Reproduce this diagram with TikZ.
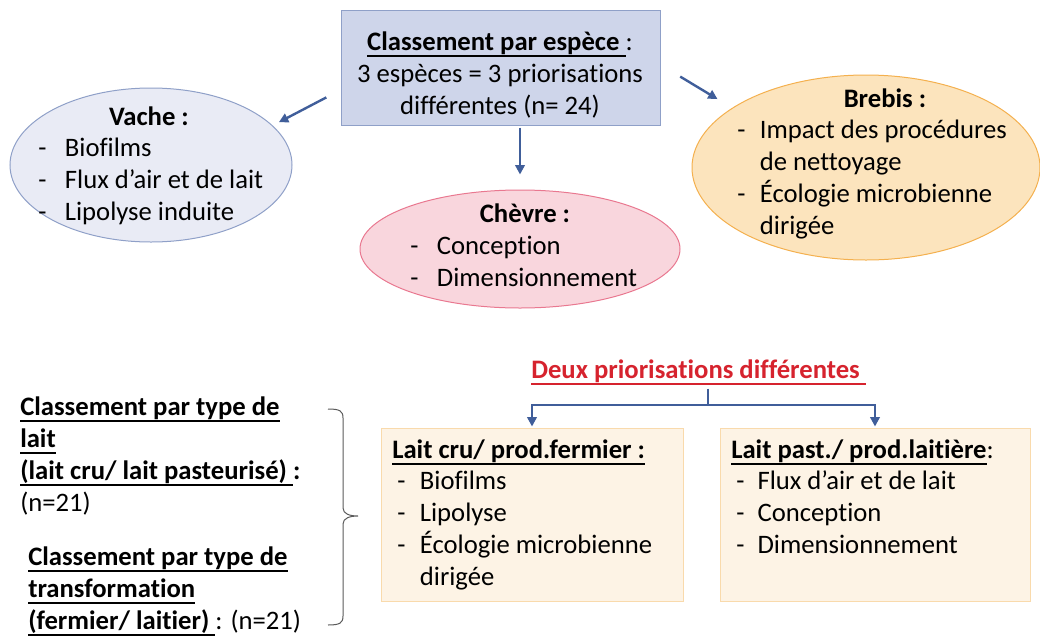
\documentclass[tikz,border=0pt]{standalone}
\usepackage{fontspec}
\setmainfont{Carlito}[Ligatures=NoCommon]
\usetikzlibrary{arrows.meta,shapes.geometric}
\newcommand{\itm}[2][20pt]{\makebox[#1][l]{-}#2}
\newcommand{\uln}[1]{\leavevmode\setbox0\hbox{#1}\rlap{\rule[-4.7pt]{\wd0}{1.3pt}}\box0}
\definecolor{topfill}{RGB}{206,213,234}
\definecolor{blueline}{RGB}{143,160,200}
\definecolor{vachefill}{RGB}{233,235,245}
\definecolor{chevrefill}{RGB}{249,214,221}
\definecolor{chevreline}{RGB}{233,120,144}
\definecolor{brebisfill}{RGB}{252,228,189}
\definecolor{brebisline}{RGB}{244,176,78}
\definecolor{laitfill}{RGB}{253,243,229}
\definecolor{laitline}{RGB}{249,218,172}
\definecolor{arrowblue}{RGB}{64,94,154}
\definecolor{titlered}{RGB}{214,35,46}
\definecolor{bracecol}{RGB}{90,90,90}
\tikzset{
  txt/.style={inner sep=0pt, font=\fontsize{20}{24}\selectfont, align=left, anchor=north west},
  ttl/.style={txt, anchor=north, align=center},
  blob/.style={ellipse, draw, line width=0.75pt, inner sep=0pt},
  pane/.style={rectangle, draw, line width=0.75pt, inner sep=0pt},
  link/.style={draw=arrowblue, line width=1.8pt},
  arr/.style={link, -{Triangle[length=7pt,width=7pt]}}
}
\begin{document}
\begin{tikzpicture}[x=0.75pt,y=-0.75pt]
	\useasboundingbox (0,0) rectangle (1040,640);

	\node[pane, fill=topfill, draw=blueline, minimum width=239.25pt, minimum height=86.25pt] (top) at (500.5,67.5) {};
	\node[ttl] (toptxt) at (500,28) {\strut\textbf{\uln{Classement par espèce\ }}:\\3 espèces = 3 priorisations\\différentes (n= 24)};

	\node[blob, fill=vachefill, draw=blueline, minimum width=211.5pt, minimum height=115.5pt] (vache) at (151,165) {};
	\node[ttl] (vachettl) at (149,103) {\strut\textbf{Vache :}};
	\node[txt] (vachelist) at (38,134) {\strut\itm{Biofilms}\\\itm{Flux d’air et de lait}\\\itm{Lipolyse induite}};

	\node[blob, fill=chevrefill, draw=chevreline, minimum width=240pt, minimum height=88.5pt] (chevre) at (520,249) {};
	\node[ttl] (chevrettl) at (525,200) {\strut\textbf{Chèvre :}};
	\node[txt] (chevrelist) at (410,232) {\strut\itm{Conception}\\\itm{Dimensionnement}};

	\node[blob, fill=brebisfill, draw=brebisline, minimum width=261pt, minimum height=138.75pt] (brebis) at (866,167.5) {};
	\node[ttl] (brebisttl) at (885,85) {\strut\textbf{Brebis :}};
	\node[txt] (brebislist) at (737,116) {\strut\itm[17pt]{Impact des procédures}\\\hspace*{17pt}de nettoyage\\\itm[17pt]{Écologie microbienne}\\\hspace*{17pt}dirigée};

	\draw[arr, shorten <=12pt, shorten >=5.25pt] (top.188) -- (vache.18);
	\draw[arr, shorten <=1.5pt, shorten >=11.25pt] (top.south -| chevre.north) -- (chevre.north);
	\draw[arr, shorten <=17.25pt, shorten >=12.75pt] (top.1) -- (brebis.156);

	\node[txt, text=titlered] (deux) at (531,356) {\strut\textbf{\uln{Deux priorisations différentes\ }}};
	\node[pane, fill=laitfill, draw=laitline, minimum width=226.5pt, minimum height=129.75pt] (cru) at (532,514.5) {};
	\node[pane, fill=laitfill, draw=laitline, minimum width=232.5pt, minimum height=129.75pt] (past) at (875,514.5) {};
	\node[txt] (crutxt) at (392,436) {\strut\textbf{\uln{Lait cru/ prod.fermier :}}};
	\node[txt] (crulist) at (397,467) {\strut\itm[17pt]{Biofilms}\\\itm[17pt]{Lipolyse}\\\itm[17pt]{Écologie microbienne}\\\hspace*{17pt}dirigée};
	\node[txt] (pasttxt) at (731,436) {\strut\textbf{\uln{Lait past./ prod.laitière}}:};
	\node[txt] (pastlist) at (736,467) {\strut\itm[16pt]{Flux d’air et de lait}\\\itm[16pt]{Conception}\\\itm[16pt]{Dimensionnement}};

	\coordinate (fork) at (708,405);
	\draw[link] (deux.south -| fork) -- (fork);
	\draw[arr, shorten >=0.75pt] (fork) -| (cru.north);
	\draw[arr, shorten >=0.75pt] (fork) -| (past.north);

	\node[txt] (parlait) at (20,393) {\strut\textbf{\uln{Classement par type de}}\\\textbf{\uln{lait}}\\\textbf{\uln{(lait cru/ lait pasteurisé)\ }:}\\(n=21)};
	\node[txt] (partransfo) at (28,543) {\strut\textbf{\uln{Classement par type de}}\\\textbf{\uln{transformation}}\\\textbf{\uln{(fermier/ laitier)\ }}: (n=21)};

	\draw[bracecol, line width=0.75pt] (328,409) .. controls (340,409) and (343,411) .. (343,418) -- (343,508) .. controls (343,514) and (350,516) .. (358,516) .. controls (350,516) and (343,518) .. (343,524) -- (343,616) .. controls (343,623) and (340,625) .. (328,625);
\end{tikzpicture}
\end{document}
